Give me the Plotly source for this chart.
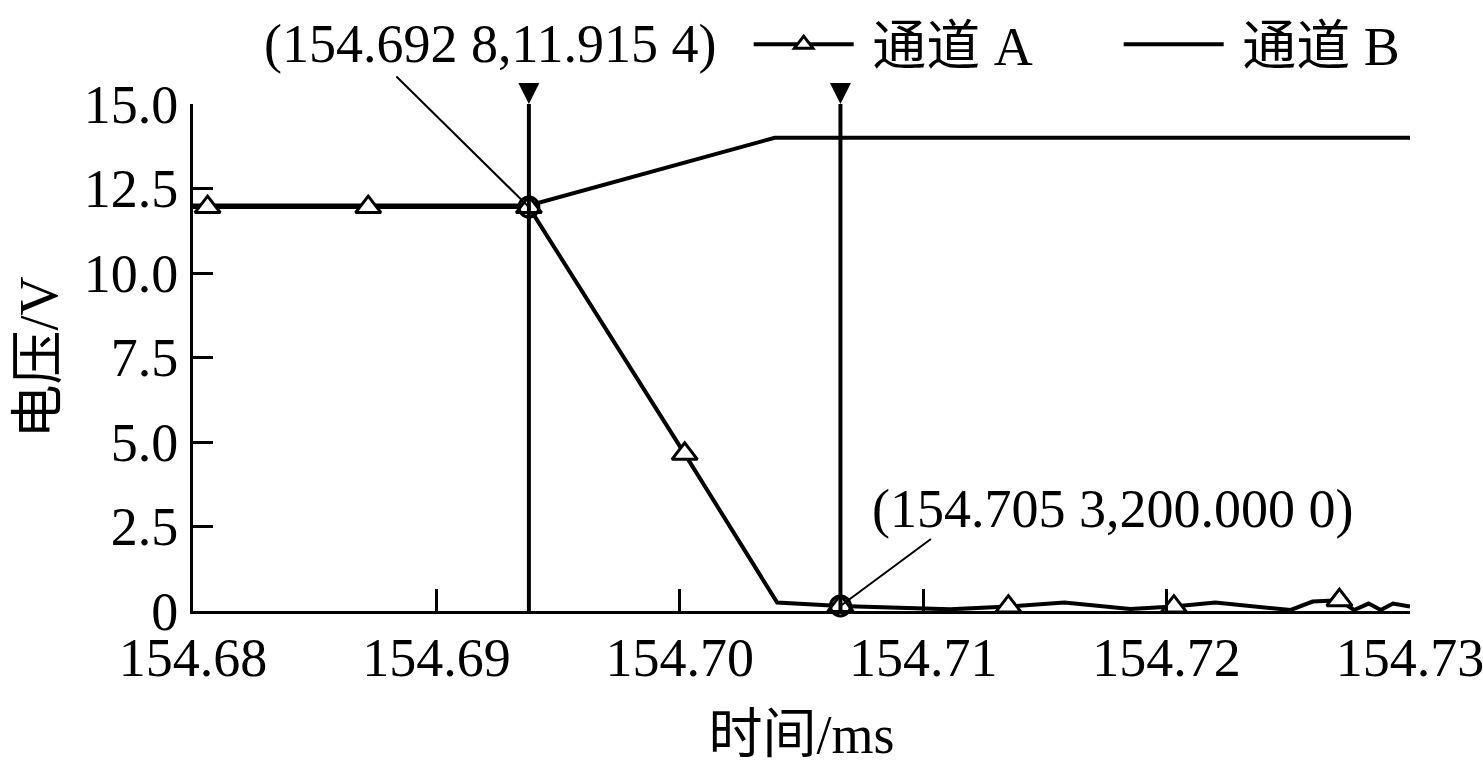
import numpy as np
import plotly.graph_objects as go

# ---- data ----
a_time = [154.6800, 154.6806, 154.6872, 154.6938, 154.7002, 154.7040, 154.7066,
          154.7111, 154.7135, 154.7158, 154.7185, 154.7203, 154.7220, 154.7251,
          154.7260, 154.7271, 154.7277, 154.7283, 154.7288, 154.7293, 154.7300]
a_volt = [11.95, 11.95, 11.95, 11.95, 4.65, 0.25, 0.15,
          0.05, 0.13, 0.25, 0.06, 0.13, 0.25, 0.03,
          0.28, 0.32, 0.03, 0.22, 0.03, 0.22, 0.13]
a_marked = [0, 1, 1, 1, 1, 0, 1,
            0, 1, 0, 0, 1, 0, 0,
            0, 1, 0, 0, 0, 0, 0]

b_time = [154.6800, 154.6938, 154.7039, 154.7300]
b_volt = [12.0, 12.0, 14.0, 14.0]

cursor_time = [154.6938, 154.7066]
cursor_labels = ["(154.692 8,11.915 4)", "(154.705 3,200.000 0)"]

x_ticks = [154.68, 154.69, 154.70, 154.71, 154.72, 154.73]
x_ticktext = ["154.68", "154.69", "154.70", "154.71", "154.72", "154.73"]
y_ticks = [0, 2.5, 5.0, 7.5, 10.0, 12.5, 15.0]
y_ticktext = ["0", "2.5", "5.0", "7.5", "10.0", "12.5", "15.0"]

FONT = "Liberation Serif, Times New Roman, Noto Sans CJK SC, serif"
FS = 54
NB = "\u00a0"

fig = go.Figure()

mk_t = [t for t, m in zip(a_time, a_marked) if m]
mk_v = [v for v, m in zip(a_volt, a_marked) if m]

# channel A : line
fig.add_trace(go.Scatter(x=a_time, y=a_volt, mode="lines", name="通道 A",
                         legendgroup="A", showlegend=False,
                         line=dict(color="black", width=4), hoverinfo="skip"))
# channel B
fig.add_trace(go.Scatter(x=b_time, y=b_volt, mode="lines", name="通道 B",
                         legendgroup="B", showlegend=False,
                         line=dict(color="black", width=4)))
# channel A : markers
fig.add_trace(go.Scatter(x=mk_t, y=mk_v, mode="markers", name="通道 A",
                         legendgroup="A", showlegend=False,
                         marker=dict(symbol="triangle-up", color="white", size=22,
                                     line=dict(color="black", width=3)),
                         cliponaxis=False))
# legend entries
fig.add_trace(go.Scatter(x=[None], y=[None], mode="lines+markers", name=NB + "通道 A",
                         legendgroup="A",
                         line=dict(color="black", width=4),
                         marker=dict(symbol="triangle-up", color="white", size=20,
                                     line=dict(color="black", width=3))))
fig.add_trace(go.Scatter(x=[None], y=[None], mode="lines", name=NB + "通道 B",
                         legendgroup="B", line=dict(color="black", width=4)))

# cursors: vertical line over the plot plus a filled down-pointing head above it
for ct in cursor_time:
    fig.add_shape(type="line", xref="x", yref="paper", x0=ct, x1=ct, y0=0, y1=1.0,
                  line=dict(color="black", width=4), layer="above")
    fig.add_annotation(x=ct, y=1.0, xref="x", yref="paper", ax=0, ay=-17, text="",
                       showarrow=True, arrowhead=2, arrowsize=1.05, arrowwidth=4,
                       arrowcolor="black", standoff=0)
cursor_vals = list(np.interp(cursor_time, a_time, a_volt))
fig.add_trace(go.Scatter(x=cursor_time, y=cursor_vals, mode="markers",
                         marker=dict(symbol="circle-open", color="black", size=20,
                                     line=dict(width=3)),
                         showlegend=False, cliponaxis=False, hoverinfo="skip"))

# annotations (leader lines + text)
leader = [(-134, -132), (92, -68)]
text_shift = [(-39, 163), (272, 97)]
for ct, cv, lab, (ax, ay), (xs, ys) in zip(cursor_time, cursor_vals, cursor_labels, leader, text_shift):
    fig.add_annotation(x=ct, y=cv, ax=ax, ay=ay, text="", showarrow=True,
                       arrowhead=0, arrowwidth=2, arrowcolor="black", standoff=0)
    fig.add_annotation(x=ct, y=cv, text=lab, showarrow=False, xshift=xs, yshift=ys,
                       font=dict(family=FONT, size=FS, color="black"))

fig.update_layout(
    width=1483, height=769,
    margin=dict(l=193, r=73, t=104, b=158, autoexpand=False),
    paper_bgcolor="white", plot_bgcolor="white",
    font=dict(family=FONT, size=FS, color="black"),
    legend=dict(orientation="h", xref="paper", yref="paper",
                x=0.4566, y=1.2, xanchor="left", yanchor="top",
                font=dict(family=FONT, size=FS), itemwidth=100, entrywidth=255,
                bgcolor="rgba(0,0,0,0)"),
    xaxis=dict(range=[154.68, 154.73], tickvals=x_ticks, ticktext=x_ticktext,
               ticks="inside", ticklen=22, tickwidth=3, tickcolor="black",
               showline=True, linewidth=3, linecolor="black", mirror=False,
               showgrid=False, zeroline=False, ticklabelstandoff=-3,
               ticklabeloverflow="allow", automargin=False,
               title=dict(text="时间/ms", standoff=29, font=dict(size=FS))),
    yaxis=dict(range=[0, 15], tickvals=y_ticks, ticktext=y_ticktext,
               ticks="inside", ticklen=20, tickwidth=3, tickcolor="black",
               showline=True, linewidth=3, linecolor="black", mirror=False,
               showgrid=False, zeroline=False, ticklabelstandoff=1,
               automargin=False,
               title=dict(text="电压/V", standoff=9, font=dict(size=FS))),
)

fig.write_html("out.html", config={"displayModeBar": False},
               post_script="document.body.style.margin='0';document.body.style.overflow='hidden';")
